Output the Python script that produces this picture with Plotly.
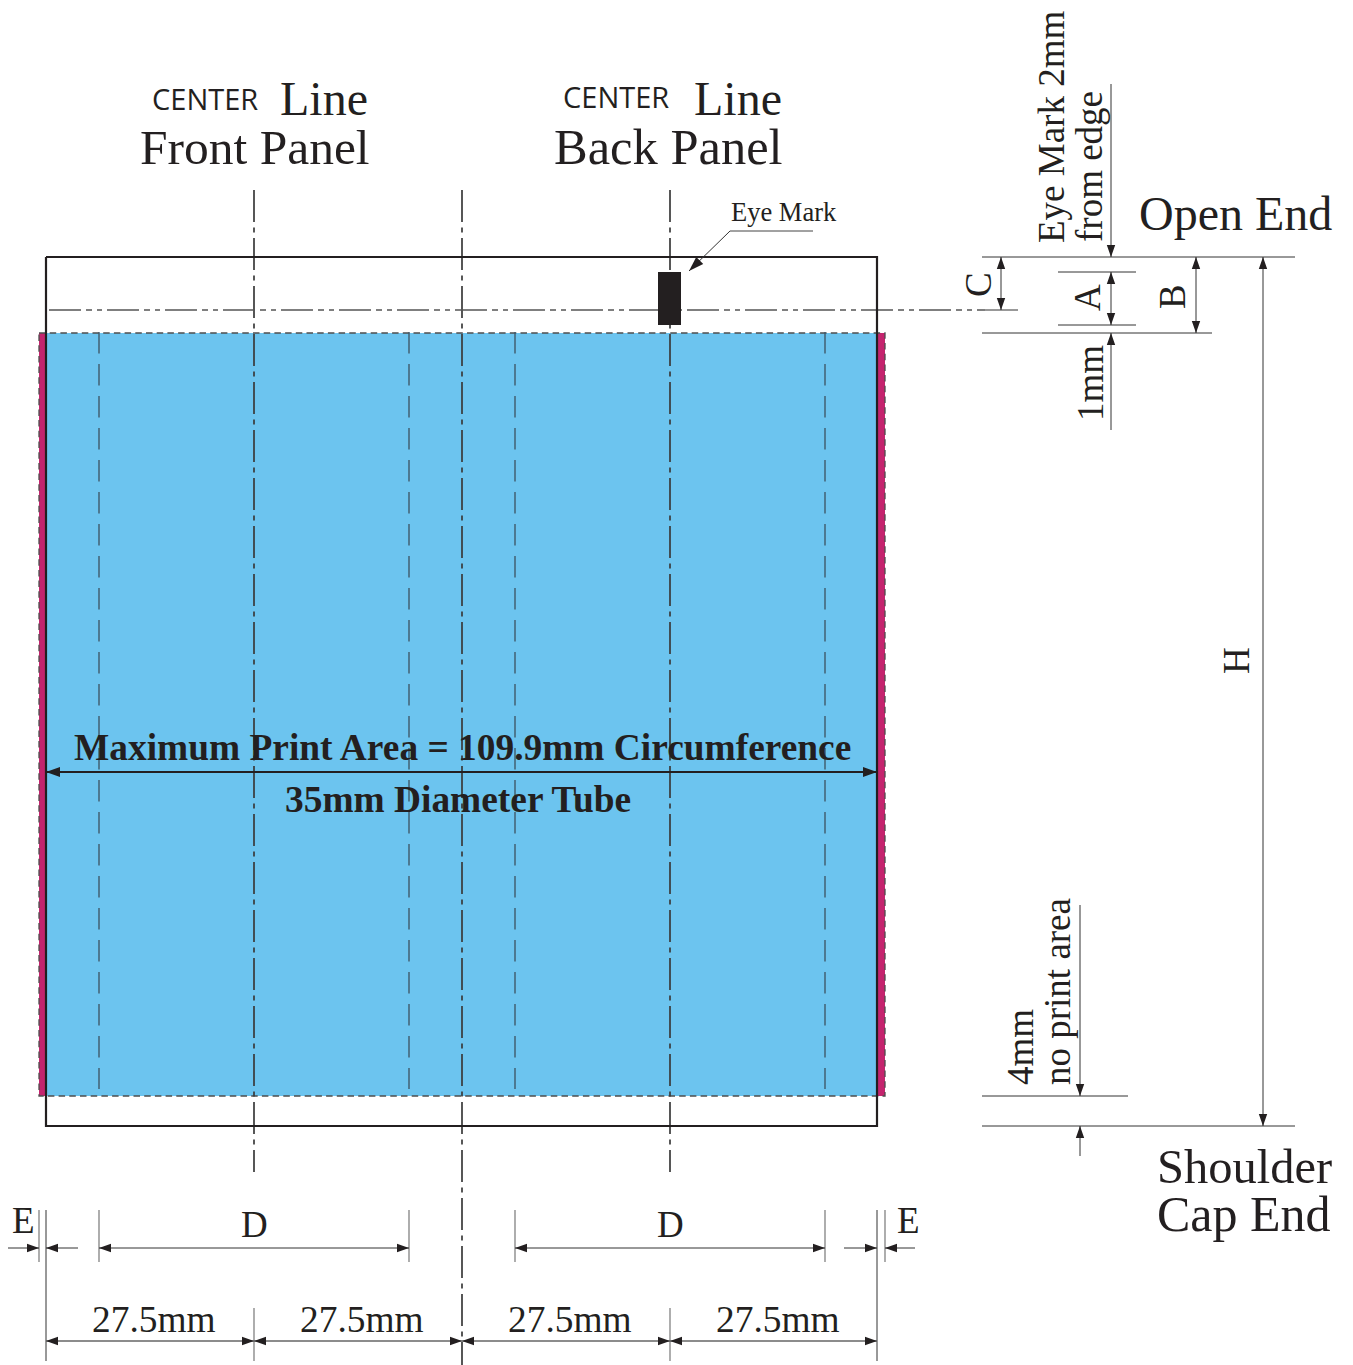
import plotly.graph_objects as go

W, H = 1353, 1365
INK = "#231f20"
BLUE = "#6cc4ef"
PINK = "#c4246e"
SERIF = "Liberation Serif"
SANS = "Open Sans"

# Sheet geometry
tube_x = [46, 877]
tube_y = [257, 1126]
print_y = [333, 1096]
pink_left = [39, 46]
pink_right = [877, 885]
eye_x = [658, 681]
eye_y = [272, 325]
center_x = [254, 462, 670]
center_y = [[190, 1172], [190, 1365], [190, 1172]]
fold_x = [99, 409, 515, 825]
fold_y = [332, 1089]

# Thin witness lines: x0, y0, x1, y1
witness = [
    (982, 257, 1295, 257), (982, 333, 1212, 333), (1058, 272, 1136, 272),
    (1058, 325, 1136, 325), (985, 310, 1018, 310), (982, 1096, 1128, 1096),
    (982, 1126, 1295, 1126), (46, 1210, 46, 1361), (877, 1210, 877, 1361),
]
soft_witness = [
    (39, 1210, 39, 1262), (99, 1210, 99, 1262), (409, 1210, 409, 1262),
    (515, 1210, 515, 1262), (825, 1210, 825, 1262), (885, 1210, 885, 1262),
    (254, 1308, 254, 1361), (670, 1308, 670, 1361),
]
# Dimension arrows: x0, y0, x1, y1, head at start, head at end
dims = [
    (1001, 257, 1001, 310, 1, 1), (1111, 272, 1111, 325, 1, 1),
    (1196, 257, 1196, 333, 1, 1), (1111, 84, 1111, 257, 0, 1),
    (1111, 430, 1111, 333, 0, 1), (1263, 257, 1263, 1126, 1, 1),
    (1080, 905, 1080, 1096, 0, 1), (1080, 1156, 1080, 1126, 0, 1),
    (99, 1248, 409, 1248, 1, 1), (515, 1248, 825, 1248, 1, 1),
    (8, 1248, 39, 1248, 0, 1), (78, 1248, 46, 1248, 0, 1),
    (844, 1248, 877, 1248, 0, 1), (915, 1248, 885, 1248, 0, 1),
]
pitch_dims = [
    (46, 1341, 254, 1341, 1, 1), (254, 1341, 462, 1341, 1, 1),
    (462, 1341, 670, 1341, 1, 1), (670, 1341, 877, 1341, 1, 1),
]
leader = (813, 231, 730, 231)
eye_arrow = (730, 231, 689, 271, 0, 1)
span = (46, 772, 877, 772, 1, 1)

# Text: label, x, y, size
flat_text = [
    ("Line", 324, 98.5, 48), ("Line", 738, 98.5, 48),
    ("Front Panel", 254.5, 147, 49.5), ("Back Panel", 668, 147, 50.5),
    ("Eye Mark", 784, 212, 26.5), ("Open End", 1235.5, 213, 48),
    ("E", 23, 1220, 37), ("D", 254, 1224, 37), ("D", 670, 1224, 37), ("E", 908, 1220, 37),
    ("27.5mm", 154, 1319, 37.4), ("27.5mm", 362, 1319, 37.4),
    ("27.5mm", 570, 1319, 37.4), ("27.5mm", 778, 1319, 37.4),
]
sans_text = [("CENTER", 205, 98, 29), ("CENTER", 616, 96, 29)]
right_text = [("Shoulder", 1334, 1166, 48.5), ("Cap End", 1333, 1214, 50)]
bold_text = [
    ("Maximum Print Area = 109.9mm Circumference", 462, 747, 37.4),
    ("35mm Diameter Tube", 458, 799, 37.4),
]
turned_text = [
    ("Eye Mark 2mm", 1051, 127, 37), ("from edge", 1089, 167, 37),
    ("C", 978, 285, 37), ("A", 1087, 298, 37), ("B", 1172, 297, 37),
    ("1mm", 1090, 383, 37), ("H", 1236, 661, 37),
    ("4mm", 1020, 1047, 37), ("no print area", 1057, 992, 37),
]


def box(x, y):
    return [x[0], x[1], x[1], x[0], x[0]], [y[0], y[0], y[1], y[1], y[0]]


def head(x, y, ux, uy, length, half):
    bx, by = x - ux * length, y - uy * length
    return [x, bx - uy * half, bx + uy * half, x, None], [y, by + ux * half, by - ux * half, y, None]


fig = go.Figure()


def fill(x, y, color):
    fig.add_trace(go.Scatter(x=x, y=y, mode="lines", fill="toself", fillcolor=color,
                             line=dict(width=0, color=color), hoverinfo="skip", showlegend=False))


def line(x, y, width=1.0, color=INK, dash="solid"):
    fig.add_trace(go.Scatter(x=x, y=y, mode="lines", line=dict(width=width, color=color, dash=dash),
                             hoverinfo="skip", showlegend=False))


def arrows(items, width, color=INK, length=12, half=4.2):
    hx, hy = [], []
    for x0, y0, x1, y1, a, b in items:
        line([x0, x1], [y0, y1], width, color)
        d = ((x1 - x0) ** 2 + (y1 - y0) ** 2) ** 0.5
        ux, uy = (x1 - x0) / d, (y1 - y0) / d
        if a:
            px, py = head(x0, y0, -ux, -uy, length, half)
            hx += px
            hy += py
        if b:
            px, py = head(x1, y1, ux, uy, length, half)
            hx += px
            hy += py
    fill(hx, hy, INK)


fill(*box(tube_x, print_y), BLUE)
fill(*box(pink_left, print_y), PINK)
fill(*box(pink_right, print_y), PINK)
line(*box([pink_left[0], pink_right[1]], print_y), 1.3, "#4d4d4d", "6.5px,4.2px")
for x in fold_x:
    line([x, x], fold_y, 1.4, "#3f5a6b", "21.5px,10.5px")
for x, y in zip(center_x, center_y):
    line([x, x], y, 1.7, "#3a3a3a", "32px,5.5px,5px,5.5px")
line([49, 985], [310, 310], 1.3, "#555555", "32px,5px,6px,5px,5px,5px")
line(*box(tube_x, tube_y), 2.2, INK)
fill(*box(eye_x, eye_y), INK)
for x0, y0, x1, y1 in witness:
    line([x0, x1], [y0, y1], 1.0, "#333333")
for x0, y0, x1, y1 in soft_witness:
    line([x0, x1], [y0, y1], 1.2, "#777777")
line([leader[0], leader[2]], [leader[1], leader[3]], 1.0, "#444444")
arrows(dims, 1.0, "#333333")
arrows(pitch_dims, 1.5, "#666666")
arrows([eye_arrow], 1.0, "#333333", 15, 5)
arrows([span], 2.0, INK, 14, 5)


def note(text, x, y, size, family=SERIF, angle=0, anchor="center"):
    fig.add_annotation(x=x, y=y, text=text, xref="x", yref="y", showarrow=False, textangle=angle,
                       xanchor=anchor, yanchor="middle", font=dict(family=family, size=size, color=INK))


for t, x, y, s in flat_text:
    note(t, x, y, s)
for t, x, y, s in sans_text:
    note(t, x, y, s, SANS)
for t, x, y, s in right_text:
    note(t, x, y, s, anchor="right")
for t, x, y, s in bold_text:
    note(f"<b>{t}</b>", x, y, s)
for t, x, y, s in turned_text:
    note(t, x, y, s, angle=-90)

fig.update_layout(
    width=W, height=H, margin=dict(l=0, r=0, t=0, b=0), plot_bgcolor="white", paper_bgcolor="white",
    xaxis=dict(range=[0, W], visible=False, fixedrange=True),
    yaxis=dict(range=[H, 0], visible=False, fixedrange=True),
    showlegend=False,
)
fig.write_html("out.html", config={"displayModeBar": False},
               post_script="document.body.style.margin='0';document.documentElement.style.overflow='hidden';")
